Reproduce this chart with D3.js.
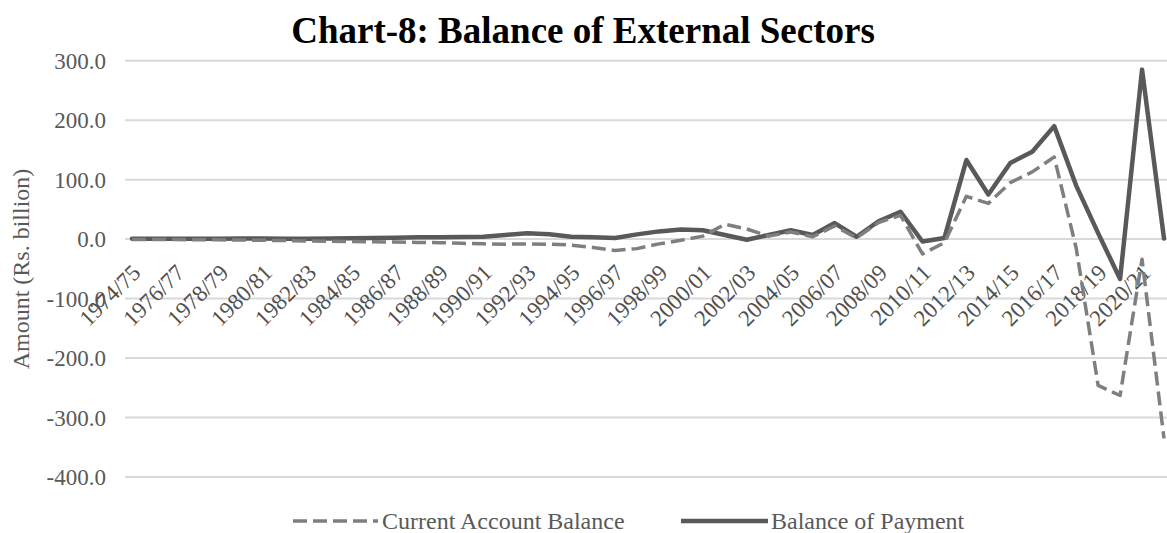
<!DOCTYPE html>
<html>
<head>
<meta charset="utf-8">
<script src="https://cdn.jsdelivr.net/npm/d3@7"></script>
<style>
  html, body { margin: 0; padding: 0; background: #fff; }
  svg { display: block; }
  svg text { font-family: "Liberation Serif", "Times New Roman", serif; }
</style>
</head>
<body>
<svg id="chart" width="1167" height="533"></svg>
<script>
// Fiscal years on the category axis
const categories = [
  "1974/75","1975/76","1976/77","1977/78","1978/79","1979/80","1980/81","1981/82",
  "1982/83","1983/84","1984/85","1985/86","1986/87","1987/88","1988/89","1989/90",
  "1990/91","1991/92","1992/93","1993/94","1994/95","1995/96","1996/97","1997/98",
  "1998/99","1999/00","2000/01","2001/02","2002/03","2003/04","2004/05","2005/06",
  "2006/07","2007/08","2008/09","2009/10","2010/11","2011/12","2012/13","2013/14",
  "2014/15","2015/16","2016/17","2017/18","2018/19","2019/20","2020/21","2021/22"
];

// Current Account Balance (Rs. billion)
const currentAccount = [
  -0.5, -0.6, -0.8, -1.0, -1.2, -1.5, -2.0, -2.5,
  -3.0, -3.5, -4.0, -4.5, -5.0, -5.5, -6.0, -7.0,
  -8.0, -8.5, -8.0, -8.5, -10.0, -14.0, -19.0, -16.0,
  -8.0, -2.0, 5.0, 25.0, 17.0, 5.0, 12.0, 4.0,
  22.0, 2.0, 28.0, 40.0, -25.0, -6.0, 72.0, 60.0,
  95.0, 113.0, 138.0, -15.0, -246.0, -263.0, -34.0, -335.0
];

// Balance of Payment (Rs. billion)
const balanceOfPayment = [
  0.5, 0.6, 0.8, 0.5, 0.7, 0.9, 1.0, 0.8,
  0.5, 1.0, 1.5, 2.0, 2.5, 3.0, 3.0, 3.5,
  4.0, 7.0, 10.0, 8.0, 4.0, 3.0, 2.0, 8.0,
  13.0, 16.0, 15.0, 7.0, -1.0, 7.0, 15.0, 7.0,
  27.0, 4.0, 30.0, 46.0, -4.0, 2.0, 133.0, 75.0,
  128.0, 147.0, 190.0, 90.0, 10.0, -67.0, 285.0, 1.0
];

const yTicks = [300, 200, 100, 0, -100, -200, -300, -400];
const labelStep = 2;

const seriesNames = ["Current Account Balance", "Balance of Payment"];
const title = "Chart-8: Balance of External Sectors";
const yTitle = "Amount (Rs. billion)";

const plot = { left: 125, right: 1180, top: 60.7, bottom: 477 };
const font = "'Liberation Serif', 'Times New Roman', serif";
const textGrey = "#595959";
const dash = "14,6";

const svg = d3.select("#chart");

const x = d3.scalePoint()
  .domain(categories)
  .range([132, 1164]);

const y = d3.scaleLinear()
  .domain([-400, 300])
  .range([plot.bottom, plot.top]);

// Horizontal gridlines
svg.append("g")
  .selectAll("line")
  .data(yTicks)
  .join("line")
  .attr("x1", plot.left)
  .attr("x2", plot.right)
  .attr("y1", d => y(d))
  .attr("y2", d => y(d))
  .attr("stroke", "#d9d9d9")
  .attr("stroke-width", 2);

// Value axis labels (plain hyphen for negatives)
const yAxis = d3.axisLeft(y)
  .tickValues(yTicks)
  .tickFormat(d => d.toFixed(1))
  .tickSize(0)
  .tickPadding(0);

svg.append("g")
  .attr("transform", `translate(${106},0)`)
  .call(yAxis)
  .call(g => g.attr("font-family", null).attr("font-size", null))
  .call(g => g.select(".domain").remove())
  .call(g => g.selectAll("text")
    .attr("font-family", font)
    .attr("font-size", 23)
    .attr("fill", textGrey)
    .attr("dy", "0.34em"));

// Category labels, every second year, rotated
const shownCats = categories.filter((c, i) => i % labelStep === 0);
svg.append("g")
  .selectAll("text")
  .data(shownCats)
  .join("text")
  .attr("transform", d => `translate(${x(d) + 10},${y(0) + 35}) rotate(-45)`)
  .attr("text-anchor", "end")
  .attr("font-family", font)
  .attr("font-size", 23)
  .attr("fill", "#505050")
  .text(d => d);

// Series lines
const line = vals => d3.line()
  .x((d, i) => x(categories[i]))
  .y(d => y(d))(vals);

svg.append("path")
  .attr("d", line(balanceOfPayment))
  .attr("fill", "none")
  .attr("stroke", "#595959")
  .attr("stroke-width", 4.5)
  .attr("stroke-linejoin", "round")
  .attr("stroke-linecap", "round");

svg.append("path")
  .attr("d", line(currentAccount))
  .attr("fill", "none")
  .attr("stroke", "#7f7f7f")
  .attr("stroke-width", 3.5)
  .attr("stroke-dasharray", dash)
  .attr("stroke-linejoin", "round");

// Title
svg.append("text")
  .attr("x", 583)
  .attr("y", 43)
  .attr("text-anchor", "middle")
  .attr("font-family", font)
  .attr("font-weight", "bold")
  .attr("font-size", 37)
  .attr("fill", "#000")
  .text(title);

// Value axis title
svg.append("text")
  .attr("transform", `translate(29,269) rotate(-90)`)
  .attr("text-anchor", "middle")
  .attr("font-family", font)
  .attr("font-size", 24)
  .attr("fill", textGrey)
  .text(yTitle);

// Legend
const legendY = 521;
const legend = svg.append("g");
legend.append("line")
  .attr("x1", 293).attr("x2", 378)
  .attr("y1", legendY).attr("y2", legendY)
  .attr("stroke", "#7f7f7f")
  .attr("stroke-width", 3.5)
  .attr("stroke-dasharray", dash);
legend.append("text")
  .attr("x", 382).attr("y", legendY)
  .attr("dy", "0.34em")
  .attr("font-family", font)
  .attr("font-size", 24)
  .attr("fill", textGrey)
  .text(seriesNames[0]);
legend.append("line")
  .attr("x1", 681).attr("x2", 768)
  .attr("y1", legendY).attr("y2", legendY)
  .attr("stroke", "#595959")
  .attr("stroke-width", 4.5);
legend.append("text")
  .attr("x", 771).attr("y", legendY)
  .attr("dy", "0.34em")
  .attr("font-family", font)
  .attr("font-size", 24)
  .attr("fill", textGrey)
  .text(seriesNames[1]);
</script>
</body>
</html>
